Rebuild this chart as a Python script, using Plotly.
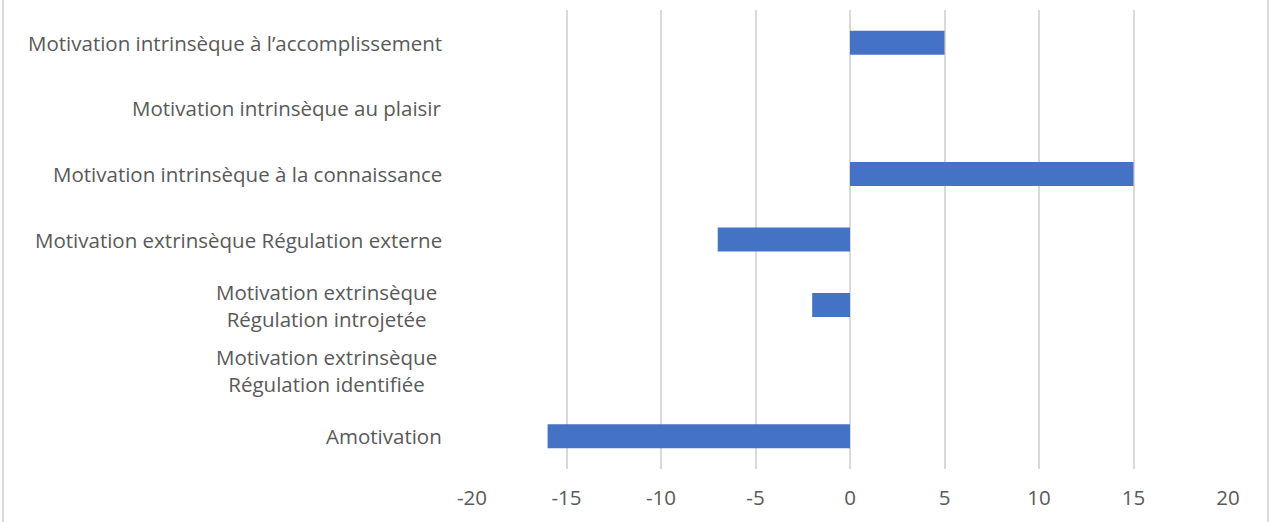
import plotly.graph_objects as go

categories = [
    "Motivation intrinsèque à l’accomplissement",
    "Motivation intrinsèque au plaisir",
    "Motivation intrinsèque à la connaissance",
    "Motivation extrinsèque Régulation externe",
    "Motivation extrinsèque<br>Régulation introjetée",
    "Motivation extrinsèque<br>Régulation identifiée",
    "Amotivation",
]
values = [5, 0, 15, -7, -2, 0, -16]
x_ticks = [-20, -15, -10, -5, 0, 5, 10, 15, 20]

W, H = 1271, 522
ML, MR, MT, MB = 472, 43, 10, 53
plot_w = W - ML - MR

fig = go.Figure()
fig.add_trace(go.Bar(
    x=values, y=categories, orientation="h",
    marker=dict(color="#4472C4", line=dict(width=0)),
    width=0.366, hoverinfo="x+y",
))

annotations = []
for c in categories:
    shift = -33 if "<br>" in c else -28
    annotations.append(dict(
        x=0, xref="paper", y=c, yref="y", text=c, showarrow=False,
        xanchor="right", yanchor="middle", align="center", xshift=shift,
        font=dict(family="Open Sans", size=20.5, color="#595959"),
    ))

grey = "#d9d9d9"
shapes = [
    dict(type="line", xref="paper", yref="paper",
         x0=(3 - ML) / plot_w, x1=(3 - ML) / plot_w, y0=-2, y1=2,
         line=dict(color=grey, width=2)),
    dict(type="line", xref="paper", yref="paper",
         x0=(1268 - ML) / plot_w, x1=(1268 - ML) / plot_w, y0=-2, y1=2,
         line=dict(color=grey, width=2)),
]

fig.update_layout(
    width=W, height=H,
    margin=dict(l=ML, r=MR, t=MT, b=MB),
    paper_bgcolor="white", plot_bgcolor="white",
    showlegend=False,
    annotations=annotations,
    shapes=shapes,
    xaxis=dict(
        range=[-20, 20], tickvals=x_ticks, ticktext=[str(v) for v in x_ticks],
        showgrid=True, gridcolor=grey, gridwidth=2,
        zeroline=False, showline=False, ticks="",
        tickfont=dict(family="Open Sans", size=20.5, color="#595959"),
        ticklabelstandoff=14,
    ),
    yaxis=dict(
        categoryorder="array", categoryarray=categories,
        autorange="reversed", showticklabels=False,
        showgrid=False, zeroline=False, showline=False, ticks="",
    ),
)

fig.write_html(
    "out.html",
    config={"displayModeBar": False},
    post_script="document.body.style.margin='0px';document.body.style.overflow='hidden';",
)
